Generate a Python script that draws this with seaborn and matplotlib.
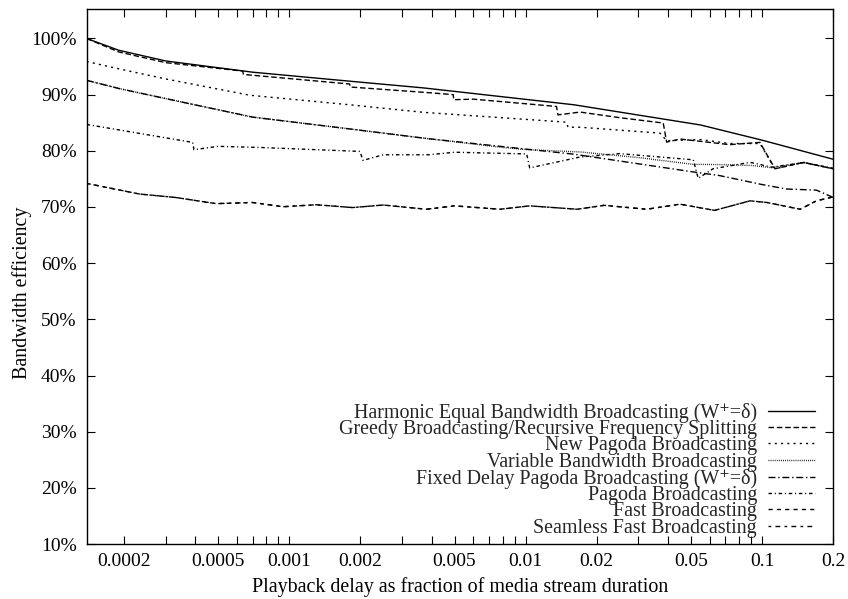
import numpy as np
import pandas as pd
import matplotlib
matplotlib.use("Agg")
import matplotlib.pyplot as plt
import seaborn as sns
from matplotlib.ticker import FixedLocator, FixedFormatter, NullLocator

# ---------------- data ----------------
harmonic_x = [1/7200, 1.9e-4, 3.0e-4, 7.0e-4, 1.8e-3, 3.7e-3, 1.6e-2, 5.5e-2, 0.1, 0.2]
harmonic_y = [100.0, 97.9, 96.0, 94.0, 92.4, 91.2, 88.2, 84.6, 81.9, 78.5]

greedy_x = [1/7200, 1.9e-4, 3.0e-4, 6.35e-4, 6.4e-4, 1.8e-3, 1.81e-3, 3.9e-3, 4.94e-3, 4.96e-3,
            6.0e-3, 1.35e-2, 1.37e-2, 1.7e-2, 2.5e-2, 3.82e-2, 3.95e-2, 4.5e-2, 7.3e-2, 9.8e-2,
            0.1135, 0.15, 0.2]
greedy_y = [100.0, 97.6, 95.7, 94.2, 93.6, 91.9, 91.36, 90.35, 90.0, 89.1,
            89.2, 87.9, 86.4, 86.9, 85.9, 84.95, 81.55, 82.1, 81.1, 81.5,
            76.8, 77.95, 76.8]

newpagoda_x = [1/7200, 1.9e-4, 3.0e-4, 6.8e-4, 1.8e-3, 3.7e-3, 1.49e-2, 1.51e-2, 1.7e-2, 3.7e-2,
               3.95e-2, 5.5e-2, 7.3e-2, 9.8e-2, 0.1135, 0.15, 0.2]
newpagoda_y = [95.9, 94.6, 92.8, 89.9, 88.2, 86.85, 85.1, 84.2, 84.2, 83.15,
               81.8, 82.0, 81.3, 81.3, 76.8, 77.95, 76.8]

vbb_x = [1/7200, 1.9e-4, 3.0e-4, 7.0e-4, 1.8e-3, 3.8e-3, 8.0e-3, 1.02e-2, 1.7e-2, 3.0e-2,
         5.1e-2, 6.6e-2, 9.0e-2, 0.11, 0.15, 0.2]
vbb_y = [92.55, 91.1, 89.3, 86.0, 83.9, 82.2, 80.6, 80.2, 79.8, 78.8,
         77.6, 77.55, 77.4, 77.0, 77.9, 76.8]

fdpb_x = [1/7200, 1.9e-4, 3.0e-4, 7.0e-4, 1.8e-3, 3.8e-3, 1.6e-2, 5.2e-2, 6.6e-2, 0.1,
          0.127, 0.17, 0.2]
fdpb_y = [92.55, 91.1, 89.3, 86.0, 83.9, 82.2, 79.4, 76.2, 75.6, 74.0,
          73.2, 73.0, 71.7]

pagoda_x = [1/7200, 3.9e-4, 3.95e-4, 5.0e-4, 7.5e-4, 1.99e-3, 2.05e-3, 2.5e-3, 3.9e-3, 5.0e-3,
            1.01e-2, 1.04e-2, 1.7e-2, 2.5e-2, 5.12e-2, 5.37e-2, 6.2e-2, 8.9e-2, 0.11, 0.15, 0.2]
pagoda_y = [84.7, 81.5, 80.2, 80.8, 80.6, 79.9, 78.3, 79.3, 79.3, 79.75,
            79.45, 76.96, 78.9, 79.5, 78.4, 75.1, 76.8, 77.95, 77.1, 77.9, 76.9]

fast_x = [1/7200, 2.33e-4, 3.3e-4, 4.9e-4, 7.0e-4, 9.4e-4, 1.3e-3, 1.85e-3, 2.5e-3, 3.8e-3,
          5.0e-3, 7.8e-3, 1.04e-2, 1.65e-2, 2.15e-2, 3.25e-2, 4.5e-2, 6.3e-2, 8.9e-2, 0.105,
          0.145, 0.17, 0.2]
fast_y = [74.2, 72.3, 71.7, 70.6, 70.8, 70.05, 70.4, 69.9, 70.35, 69.6,
          70.2, 69.6, 70.2, 69.6, 70.3, 69.6, 70.5, 69.4, 71.1, 70.8,
          69.6, 71.1, 71.8]

seamless_x = list(fast_x)
seamless_y = list(fast_y)

series_labels = [
    "Harmonic Equal Bandwidth Broadcasting (W\u207a=δ)",
    "Greedy Broadcasting/Recursive Frequency Splitting",
    "New Pagoda Broadcasting",
    "Variable Bandwidth Broadcasting",
    "Fixed Delay Pagoda Broadcasting (W\u207a=δ)",
    "Pagoda Broadcasting",
    "Fast Broadcasting",
    "Seamless Fast Broadcasting",
]

xtick_vals = [0.0002, 0.0005, 0.001, 0.002, 0.005, 0.01, 0.02, 0.05, 0.1, 0.2]
xtick_labels = ["0.0002", "0.0005", "0.001", "0.002", "0.005", "0.01", "0.02", "0.05", "0.1", "0.2"]
ytick_vals = [10, 20, 30, 40, 50, 60, 70, 80, 90, 100]
ytick_labels = ["10%", "20%", "30%", "40%", "50%", "60%", "70%", "80%", "90%", "100%"]

# ---------------- styling ----------------
sns.set_theme(style="ticks")
plt.rcParams["font.family"] = ["Liberation Serif", "DejaVu Serif"]
plt.rcParams["axes.edgecolor"] = "black"
plt.rcParams["axes.linewidth"] = 1.0

FS_TICK = 14
FS_TEXT = 14.4

fig = plt.figure(figsize=(8.48, 5.99), dpi=100)
ax = fig.add_axes([0.1022, 0.0918, 0.8803, 0.8927])

series = [
    (harmonic_x, harmonic_y, None),
    (greedy_x, greedy_y, (4, 2)),
    (newpagoda_x, newpagoda_y, (1.5, 3)),
    (vbb_x, vbb_y, (0.6, 0.9)),
    (fdpb_x, fdpb_y, (5, 2, 1, 2)),
    (pagoda_x, pagoda_y, (2.5, 2, 0.8, 2)),
    (fast_x, fast_y, (3, 3)),
    (seamless_x, seamless_y, (2, 3, 3.5, 3)),
]

for (xs, ys, dash), lab in zip(series, series_labels):
    df = pd.DataFrame({"x": xs, "y": ys})
    sns.lineplot(data=df, x="x", y="y", ax=ax, color="black", linewidth=1.0,
                 estimator=None, sort=False, label=lab)
    line = ax.get_lines()[-1]
    if dash is not None:
        line.set_dashes(dash)

ax.set_xscale("log")
ax.set_xlim(1/7200, 0.2)
ax.set_ylim(10, 105.2)

minor = []
for dec in [1e-4, 1e-3, 1e-2, 1e-1]:
    for m in range(1, 10):
        v = m * dec
        if 1/7200 <= v <= 0.2 and not any(abs(v - t) < 1e-12 for t in xtick_vals):
            minor.append(v)
ax.xaxis.set_major_locator(FixedLocator(xtick_vals))
ax.xaxis.set_major_formatter(FixedFormatter(xtick_labels))
ax.xaxis.set_minor_locator(FixedLocator(minor))
ax.yaxis.set_major_locator(FixedLocator(ytick_vals))
ax.yaxis.set_major_formatter(FixedFormatter(ytick_labels))
ax.yaxis.set_minor_locator(NullLocator())

ax.tick_params(which="both", direction="in", top=True, right=True, length=5.8,
               width=0.8, color="black", labelsize=FS_TICK, labelcolor="black")
ax.tick_params(axis="x", which="major", pad=6.5)
ax.tick_params(axis="y", which="major", pad=7.2)

ax.set_xlabel("Playback delay as fraction of media stream duration", fontsize=FS_TEXT, color="black")
ax.set_ylabel("Bandwidth efficiency", fontsize=FS_TEXT, color="black")
ax.xaxis.set_label_coords(0.5, -0.062)
ax.yaxis.set_label_coords(-0.073, 0.47)

for s in ax.spines.values():
    s.set_visible(True)
    s.set_color("black")
    s.set_linewidth(1.0)

leg = ax.legend(loc="lower right", bbox_to_anchor=(0.9756, 0.0117), frameon=False,
                markerfirst=False, fontsize=FS_TEXT, handlelength=2.35, handletextpad=0.55,
                labelspacing=-0.135, borderpad=0.0, borderaxespad=0.0)
for h in leg.get_lines():
    h.set_linewidth(1.0)

fig.savefig("out.png", dpi=100)
